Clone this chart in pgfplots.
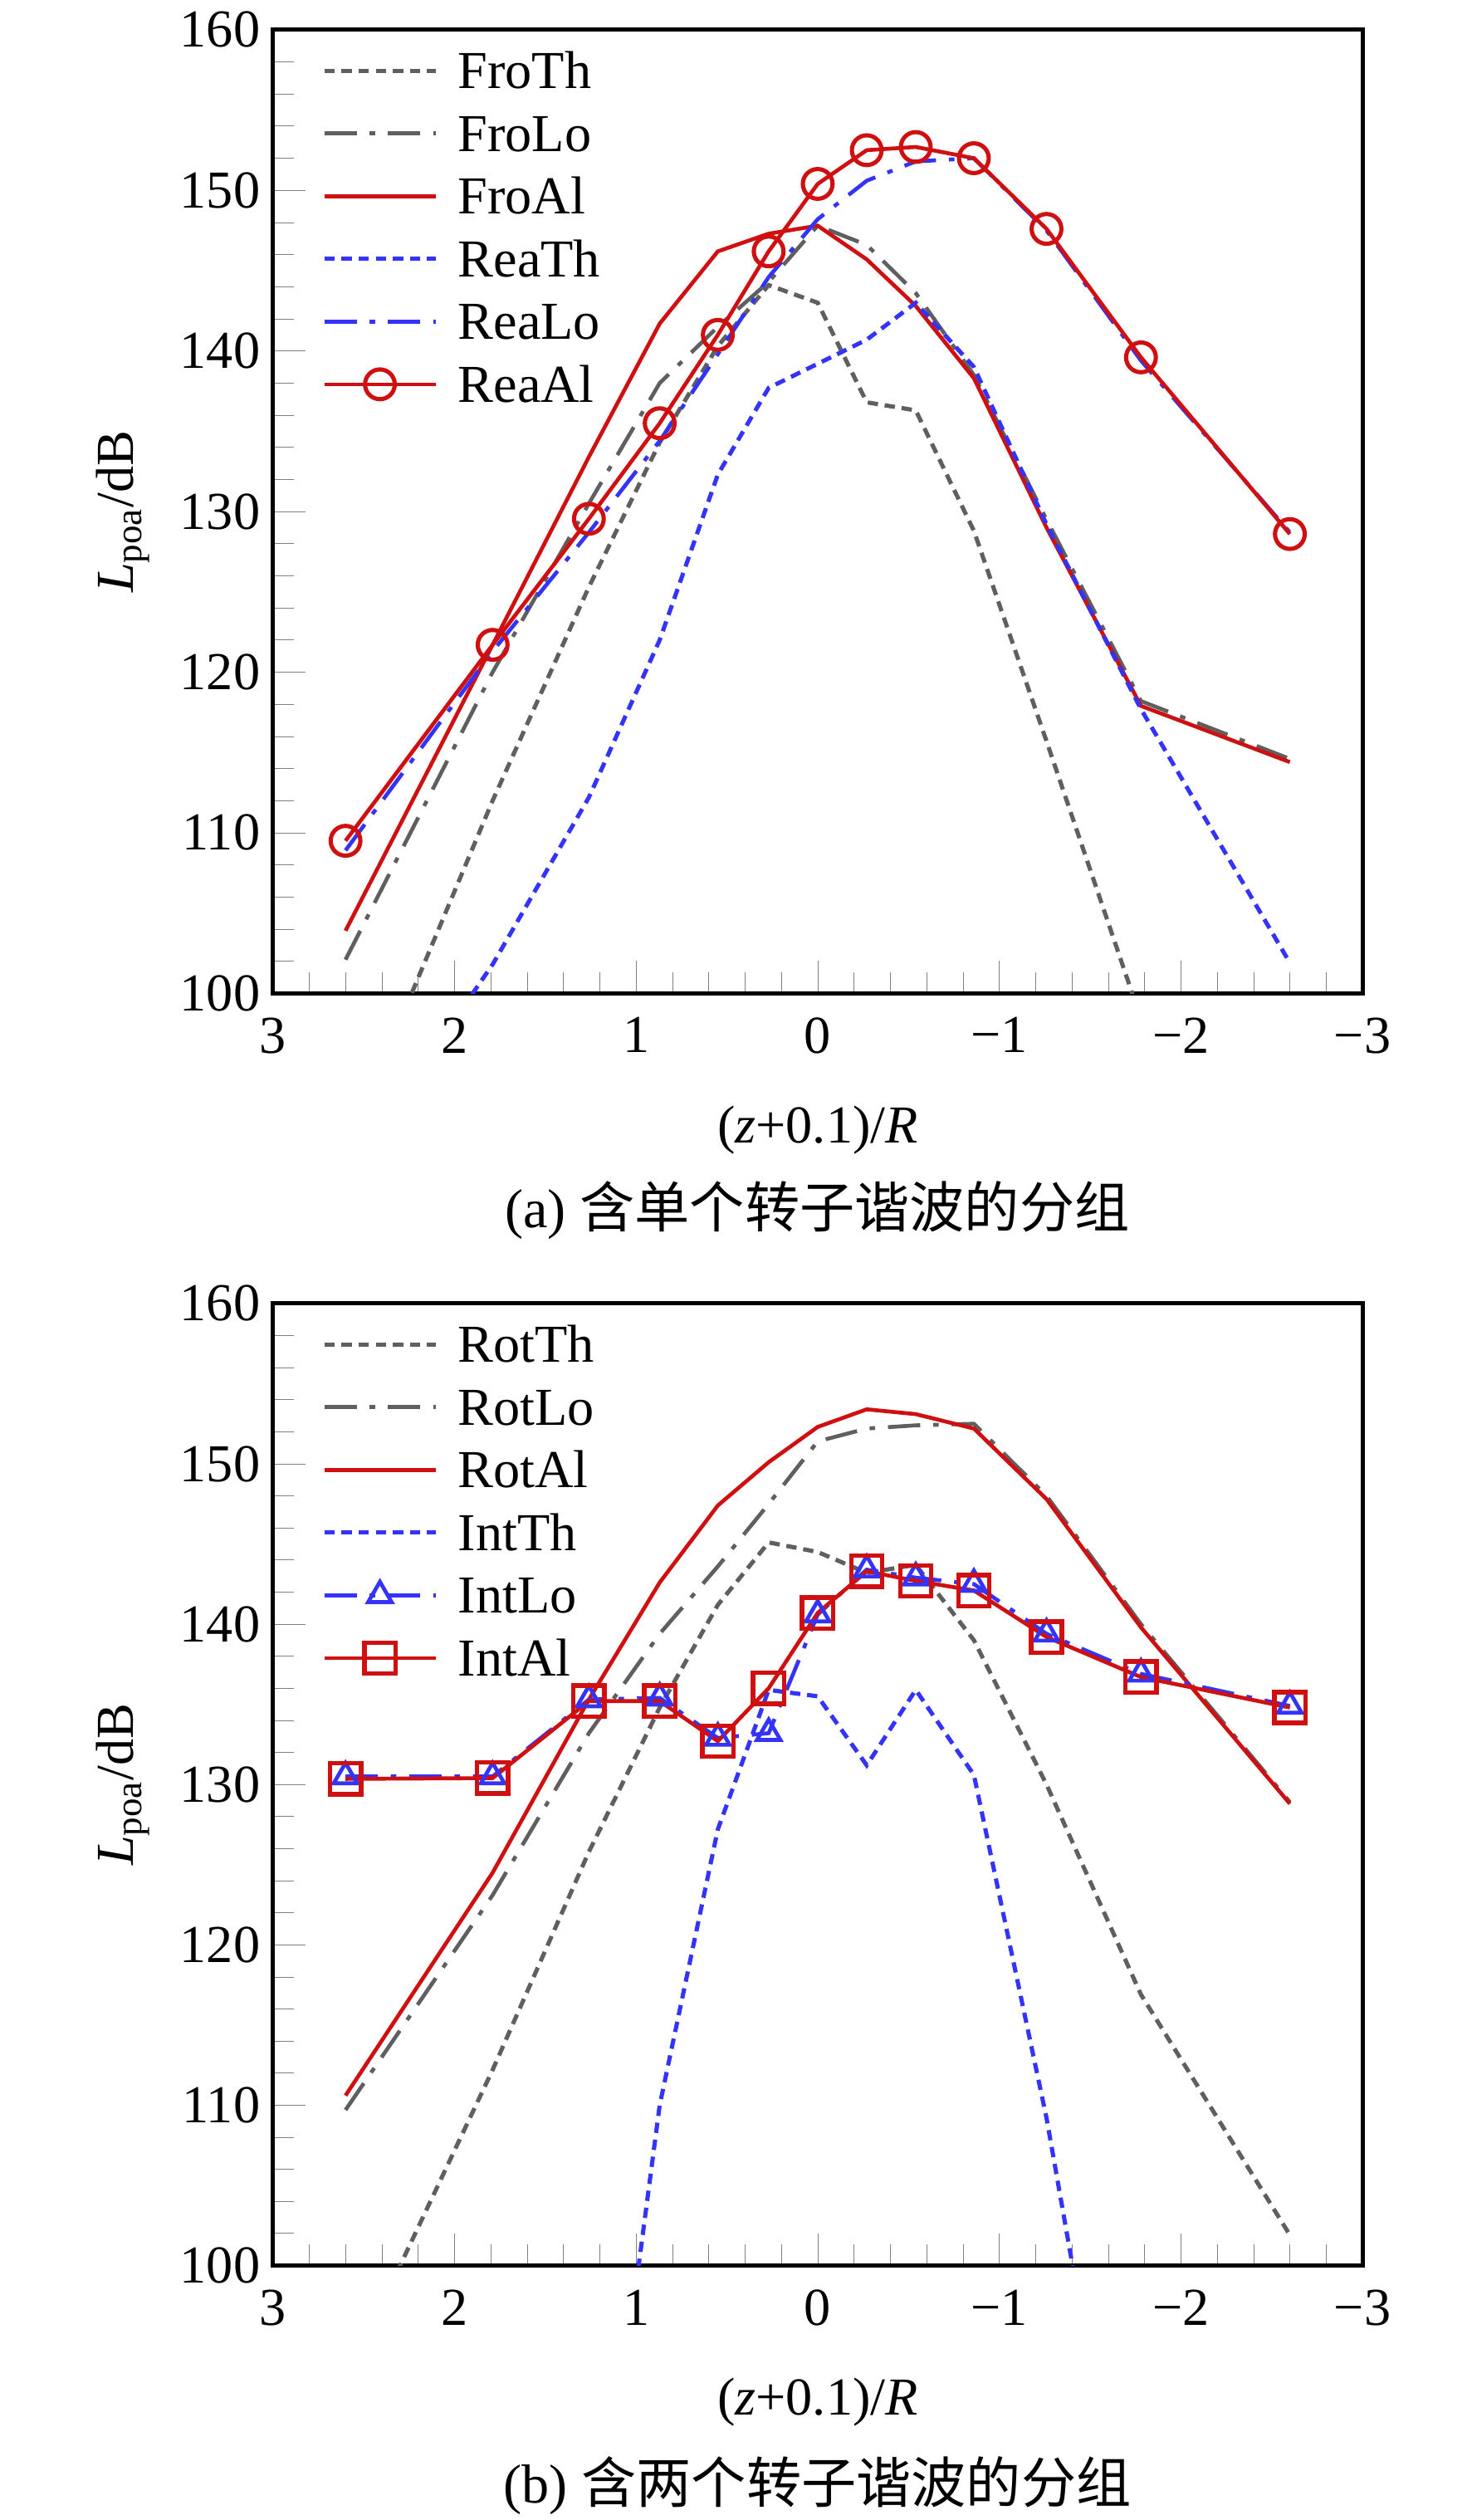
\documentclass[border=0pt]{standalone}
\usepackage{fontspec}
\setmainfont{Liberation Serif}
\newfontfamily\cjk{Noto Sans CJK SC}
\usepackage{pgfplots}
\usepackage{pgfplotstable}
\pgfplotsset{compat=1.18}
\definecolor{cred}{RGB}{208,16,16}
\definecolor{cblue}{RGB}{51,51,250}
\definecolor{cgray}{RGB}{95,95,95}
\newcommand\myfs{\fontsize{16.5bp}{19bp}\selectfont}
\newcommand\myfc{\fontsize{17bp}{20bp}\selectfont}

\pgfplotstableread{
x     FroTh  FroLo  FroAl  ReaTh  ReaLo  ReaAl
2.60  90.2   102.1  103.9  88.5   108.9  109.5
1.79  112.0  120.0  121.7  101.8  121.3  121.7
1.26  125.3  130.5  133.4  112.2  128.7  129.55
0.87  134.3  138.0  141.7  122.0  134.4  135.5
0.55  140.3  141.5  146.2  132.3  139.8  141.0
0.27  144.1  144.3  147.3  137.7  144.6  146.2
0.00  143.0  147.8  147.8  139.2  148.2  150.4
-0.27 136.8  146.6  145.7  140.7  150.6  152.5
-0.54 136.3  143.6  142.8  143.0  151.8  152.7
-0.86 128.8  138.5  138.3  139.0  152.0  152.0
-1.26 115.7  129.5  129.0  129.2  147.5  147.6
-1.78 98.4   118.2  117.9  117.7  139.4  139.6
-2.60 85.0   114.6  114.4  101.9  128.7  128.6
}\tabA

\pgfplotstableread{
x     RotTh  RotLo  RotAl  IntTh  IntLo  IntAl
2.60  92.8   109.7  110.6  60.0   130.5  130.35
1.79  112.2  123.1  124.5  70.0   130.5  130.4
1.26  125.8  133.2  135.3  76.3   135.3  135.2
0.87  134.8  139.4  142.6  110.0  135.4  135.2
0.55  141.2  143.6  147.4  127.2  132.9  132.7
0.27  145.1  147.5  150.1  135.9  133.2  136.0
0.00  144.5  151.4  152.3  135.5  140.6  140.7
-0.27 143.2  152.2  153.4  131.2  143.4  143.3
-0.54 143.7  152.4  153.1  135.9  142.9  142.7
-0.86 139.0  152.5  152.2  130.6  142.5  142.1
-1.26 130.0  148.0  147.8  109.2  139.4  139.2
-1.78 116.9  140.0  139.8  75.8   136.9  136.7
-2.60 101.9  128.9  128.8  60.0   134.9  134.8
}\tabB

\tikzset{
  thline/.style={line width=1.3bp, dash pattern=on 3.2bp off 2.1bp},
  loline/.style={line width=1.2bp, dash pattern=on 10bp off 4bp on 1.7bp off 4bp},
  alline/.style={line width=1.2bp, solid},
}

\pgfplotsset{
  myaxis/.style={
    scale only axis, width=337bp, height=298bp,
    xmin=-3, xmax=3, ymin=100, ymax=160, x dir=reverse,
    xtick={-3,-2,-1,0,1,2,3},
    xticklabels={−3,−2,−1,0,1,2,3},
    ytick={100,110,120,130,140,150,160},
    yticklabels={100,110,120,130,140,150,160},
    minor x tick num=4, minor y tick num=4,
    tick label style={font=\myfs},
    xticklabel style={yshift=-3.5bp},
    label style={font=\myfs},
    xlabel={(\textit{z}+0.1)/\textit{R}},
    ylabel={\textit{L}\textsubscript{poa}/dB},
    xlabel style={at={(axis description cs:0.5,-0.1423)}, anchor=center},
    ylabel style={at={(axis description cs:-0.1377,0.5)}, anchor=center},
    legend cell align=left,
    legend style={at={(axis description cs:0,1)}, anchor=north west,
      xshift=14.6bp, yshift=-6bp, draw=none, fill=none, inner sep=0pt,
      row sep=7.4bp, column sep=6.3bp, font=\myfs,
      nodes={inner sep=0pt, text height=11.5bp, text depth=0.5bp}},
    legend image code/.code={\draw[mark repeat=2,mark phase=2,##1]
      plot coordinates {(0bp,0bp) (17.2bp,0bp) (34.4bp,0bp)};},
  }
}

\begin{document}
\begin{tikzpicture}
\path[use as bounding box] (0,0) rectangle (455bp,779.3bp);

\begin{axis}[myaxis, at={(84.4bp,472.1bp)}, anchor=south west,
  tick align=inside, tick pos=left, major tick length=10bp, minor tick length=6.5bp,
  every axis/.append style={line width=1.3bp}]
\addplot[cgray, thline, no marks] table[x=x,y=FroTh] {\tabA};
\addlegendentry{FroTh}
\addplot[cgray, loline, no marks] table[x=x,y=FroLo] {\tabA};
\addlegendentry{FroLo}
\addplot[cred, alline, no marks] table[x=x,y=FroAl] {\tabA};
\addlegendentry{FroAl}
\addplot[cblue, thline, no marks] table[x=x,y=ReaTh] {\tabA};
\addlegendentry{ReaTh}
\addplot[cblue, loline, no marks] table[x=x,y=ReaLo] {\tabA};
\addlegendentry{ReaLo}
\addplot[cred, alline, mark=o, mark size=4.6bp, mark options={solid, line width=1.3bp}] table[x=x,y=ReaAl] {\tabA};
\addlegendentry{ReaAl}
\end{axis}

\begin{axis}[myaxis, at={(84.4bp,78.7bp)}, anchor=south west, height=297.5bp,
  tick align=inside, tick pos=left, major tick length=10bp, minor tick length=6.5bp,
  every axis/.append style={line width=1.3bp}]
\addplot[cgray, thline, no marks] table[x=x,y=RotTh] {\tabB};
\addlegendentry{RotTh}
\addplot[cgray, loline, no marks] table[x=x,y=RotLo] {\tabB};
\addlegendentry{RotLo}
\addplot[cred, alline, no marks] table[x=x,y=RotAl] {\tabB};
\addlegendentry{RotAl}
\addplot[cblue, thline, no marks] table[x=x,y=IntTh] {\tabB};
\addlegendentry{IntTh}
\addplot[cblue, loline, mark=triangle, mark size=4.2bp, mark options={solid, line width=1.2bp}] table[x=x,y=IntLo] {\tabB};
\addlegendentry{IntLo}
\addplot[cred, alline, mark=square, mark size=4.8bp, mark options={solid, line width=1.4bp}] table[x=x,y=IntAl] {\tabB};
\addlegendentry{IntAl}
\end{axis}

\node[font=\myfc, anchor=center] at (252.8bp,405.1bp) {(a) {\cjk 含单个转子谐波的分组}};
\node[font=\myfc, anchor=center] at (252.8bp,10.5bp) {(b) {\cjk 含两个转子谐波的分组}};
\end{tikzpicture}
\end{document}
